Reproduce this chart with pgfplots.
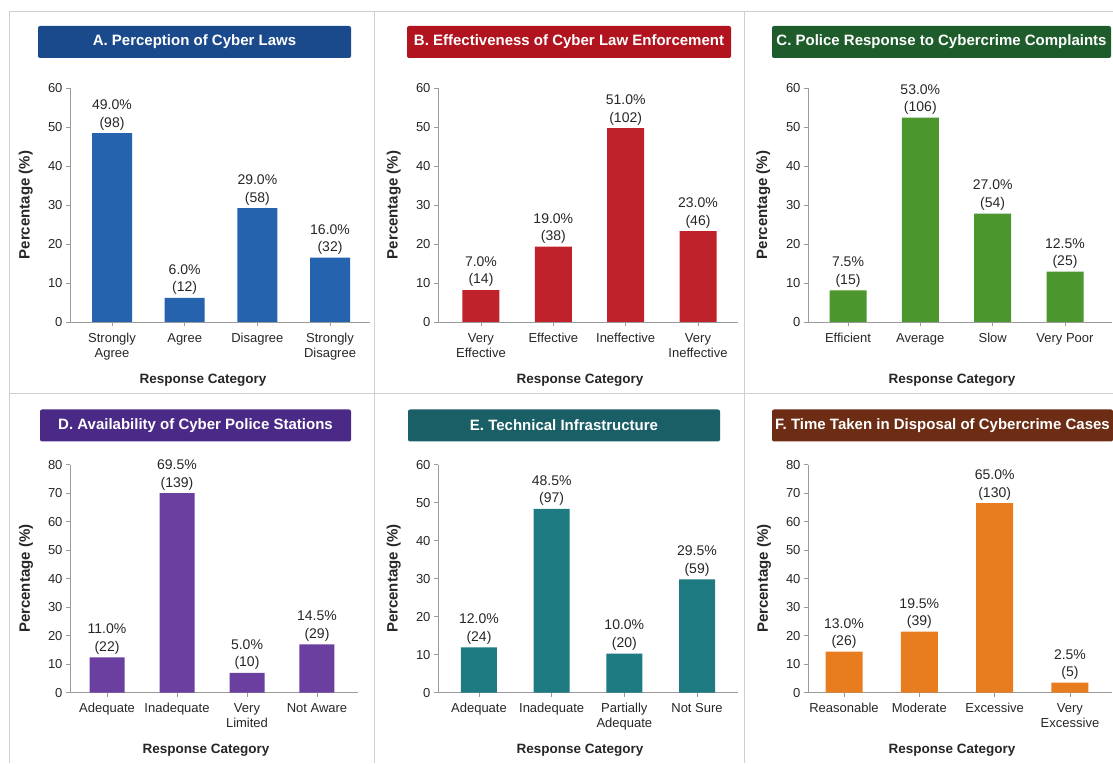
\documentclass[border=0pt]{standalone}
\usepackage{fontspec}
\setmainfont{Liberation Sans}
\usepackage{pgfplots}
\usepackage{pgfplotstable}
\pgfplotsset{compat=1.18}

\definecolor{titA}{HTML}{1B4A8C}\definecolor{barA}{HTML}{2563AE}
\definecolor{titB}{HTML}{B2141F}\definecolor{barB}{HTML}{C0222B}
\definecolor{titC}{HTML}{1F5C2C}\definecolor{barC}{HTML}{4B972D}
\definecolor{titD}{HTML}{4A2A86}\definecolor{barD}{HTML}{6A3FA0}
\definecolor{titE}{HTML}{1A5E66}\definecolor{barE}{HTML}{1C7A80}
\definecolor{titF}{HTML}{6C2D14}\definecolor{barF}{HTML}{E87D20}
\definecolor{axgray}{HTML}{9A9A9A}
\definecolor{sepgray}{HTML}{CFCFCF}
\definecolor{txt}{HTML}{262626}

\pgfplotstableread{
x y lab
0 48.4 {49.0\%\\(98)}
1 6.2 {6.0\%\\(12)}
2 29.2 {29.0\%\\(58)}
3 16.5 {16.0\%\\(32)}
}\dataA
\pgfplotstableread{
x y lab
0 8.2 {7.0\%\\(14)}
1 19.3 {19.0\%\\(38)}
2 49.7 {51.0\%\\(102)}
3 23.3 {23.0\%\\(46)}
}\dataB
\pgfplotstableread{
x y lab
0 8.1 {7.5\%\\(15)}
1 52.4 {53.0\%\\(106)}
2 27.8 {27.0\%\\(54)}
3 12.9 {12.5\%\\(25)}
}\dataC
\pgfplotstableread{
x y lab
0 12.4 {11.0\%\\(22)}
1 70.0 {69.5\%\\(139)}
2 7.0 {5.0\%\\(10)}
3 17.0 {14.5\%\\(29)}
}\dataD
\pgfplotstableread{
x y lab
0 11.9 {12.0\%\\(24)}
1 48.4 {48.5\%\\(97)}
2 10.3 {10.0\%\\(20)}
3 29.8 {29.5\%\\(59)}
}\dataE
\pgfplotstableread{
x y lab
0 14.4 {13.0\%\\(26)}
1 21.4 {19.5\%\\(39)}
2 66.5 {65.0\%\\(130)}
3 3.5 {2.5\%\\(5)}
}\dataF

\pgfplotsset{panel/.style={
  scale only axis,
  ybar, ymin=0,
  axis x line*=bottom, axis y line*=left,
  axis line style={draw=axgray, line width=0.8pt},
  every tick/.style={draw=axgray, line width=0.8pt},
  tick align=outside, major tick length=4pt,
  xtick={0,1,2,3},
  typeset ticklabels with strut,
  /pgf/number format/assume math mode=true,
  yticklabel style={font=\fontsize{13}{15}\selectfont, text=txt, yshift=-1.7pt},
  xticklabel style={font=\fontsize{13}{15}\selectfont, align=center, text=txt, yshift=-2pt},
  xlabel={Response Category},
  ylabel={Percentage (\%)},
  xlabel style={font=\bfseries\fontsize{13.5}{15}\selectfont, text=txt, at={(axis description cs:0.5,0)}, anchor=center, yshift=-58pt, xshift=-8pt},
  ylabel style={font=\bfseries\fontsize{15}{17}\selectfont, text=txt, at={(axis description cs:-0.147,0.5)}, anchor=center},
  point meta=explicit symbolic,
  nodes near coords,
  every node near coord/.append style={font=\fontsize{14}{17.5}\selectfont, align=center, text=txt, inner sep=3pt},
  enlarge y limits=false, clip=false,
}}

\begin{document}
\begin{tikzpicture}
\path[use as bounding box] (0pt,0pt) rectangle (1113pt,763pt);
% separators
\draw[sepgray, line width=1pt] (9pt,751pt) -- (1113pt,751pt);
\draw[sepgray, line width=1pt] (9pt,751pt) -- (9pt,0pt);
\draw[sepgray, line width=1pt] (374pt,751pt) -- (374pt,0pt);
\draw[sepgray, line width=1pt] (744pt,751pt) -- (744pt,0pt);
\draw[sepgray, line width=1pt] (9pt,369pt) -- (1113pt,369pt);

% titles
\tikzset{tbox/.style={rounded corners=2pt, text=white, minimum height=32pt, inner sep=0pt, font=\bfseries\fontsize{15}{18}\selectfont}}
\node[tbox, fill=titA, minimum width=313pt] at (194.5pt,721pt) {A. Perception of Cyber Laws};
\node[tbox, fill=titB, minimum width=324pt] at (569pt,721pt) {B. Effectiveness of Cyber Law Enforcement};
\node[tbox, fill=titC, minimum width=339pt] at (941.5pt,721pt) {C. Police Response to Cybercrime Complaints};
\node[tbox, fill=titD, minimum width=311pt] at (195.5pt,337.5pt) {D. Availability of Cyber Police Stations};
\node[tbox, fill=titE, minimum width=312pt] at (564pt,337.5pt) {E. Technical Infrastructure};
\node[tbox, fill=titF, minimum width=341pt] at (942.5pt,337.5pt) {F. Time Taken in Disposal of Cybercrime Cases};

% A
\begin{axis}[panel, at={(70pt,441pt)}, anchor=south west, width=300pt, height=234pt,
  xmin=-0.578, xmax=3.55, ymax=60, ytick={0,10,...,60}, bar width=40pt,
  xticklabels={{Strongly\\Agree},Agree,Disagree,{Strongly\\Disagree}},
  xlabel style={xshift=-9pt}]
\addplot[fill=barA, draw=none] table[x=x,y=y,meta=lab]{\dataA};
\end{axis}
% B
\begin{axis}[panel, at={(438pt,441pt)}, anchor=south west, width=300pt, height=234pt,
  xmin=-0.594, xmax=3.553, ymax=60, ytick={0,10,...,60}, bar width=37pt,
  xticklabels={{Very\\Effective},Effective,Ineffective,{Very\\Ineffective}}]
\addplot[fill=barB, draw=none] table[x=x,y=y,meta=lab]{\dataB};
\end{axis}
% C
\begin{axis}[panel, at={(808pt,441pt)}, anchor=south west, width=304pt, height=234pt,
  xmin=-0.553, xmax=3.65, ymax=60, ytick={0,10,...,60}, bar width=37pt,
  xticklabels={Efficient,Average,Slow,Very Poor}]
\addplot[fill=barC, draw=none] table[x=x,y=y,meta=lab]{\dataC};
\end{axis}
% D
\begin{axis}[panel, at={(70pt,70.3pt)}, anchor=south west, width=288pt, height=228pt,
  xmin=-0.529, xmax=3.586, ymax=80, ytick={0,10,...,80}, bar width=35pt,
  xticklabels={Adequate,Inadequate,{Very\\Limited},Not Aware},
  ylabel style={at={(axis description cs:-0.153,0.5)}}]
\addplot[fill=barD, draw=none] table[x=x,y=y,meta=lab]{\dataD};
\end{axis}
% E
\begin{axis}[panel, at={(438pt,70.3pt)}, anchor=south west, width=300pt, height=228pt,
  xmin=-0.564, xmax=3.564, ymax=60, ytick={0,10,...,60}, bar width=36pt,
  xticklabels={Adequate,Inadequate,{Partially\\Adequate},Not Sure}]
\addplot[fill=barE, draw=none] table[x=x,y=y,meta=lab]{\dataE};
\end{axis}
% F
\begin{axis}[panel, at={(808pt,70.3pt)}, anchor=south west, width=304pt, height=228pt,
  xmin=-0.478, xmax=3.558, ymax=80, ytick={0,10,...,80}, bar width=37pt,
  xticklabels={Reasonable,Moderate,Excessive,{Very\\Excessive}},
  ylabel style={at={(axis description cs:-0.145,0.5)}}]
\addplot[fill=barF, draw=none] table[x=x,y=y,meta=lab]{\dataF};
\end{axis}
\end{tikzpicture}
\end{document}
